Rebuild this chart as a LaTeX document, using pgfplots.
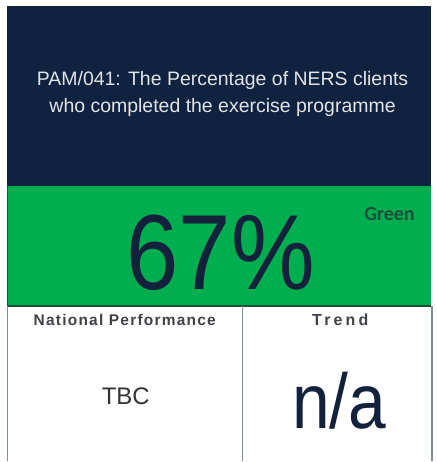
\documentclass[border=0pt]{standalone}
\usepackage{fontspec}
\setmainfont{Liberation Sans}
\newfontfamily\calfont{Carlito}
\usepackage{pgfplots}
\pgfplotsset{compat=1.18}

\definecolor{tileNavy}{HTML}{0F223F}
\definecolor{tileGreen}{HTML}{00AE4F}
\definecolor{valueInk}{HTML}{13213D}
\definecolor{ragInk}{HTML}{1D4E3A}
\definecolor{labelInk}{HTML}{3F4347}
\definecolor{tbcInk}{HTML}{333333}
\definecolor{titleInk}{HTML}{E2E4E8}
\definecolor{frameLine}{HTML}{7F8C9A}

\begin{document}
\begin{tikzpicture}
\begin{axis}[
  width=437pt, height=462pt, scale only axis,
  xmin=0, xmax=437, ymin=0, ymax=462, y dir=reverse,
  hide axis, clip=false]
% page background
\addplot[fill=white, draw=none] coordinates {(0,0) (437,0) (437,462) (0,462)} -- cycle;
% title panel
\addplot[fill=tileNavy, draw=none] coordinates {(7,6) (432,6) (432,185) (7,185)} -- cycle;
% value panel
\addplot[fill=tileGreen, draw=none] coordinates {(7,185) (432,185) (432,307) (7,307)} -- cycle;
\addplot[tileNavy, line width=1.2pt] coordinates {(7,185.5) (432,185.5)};
\addplot[ragInk, line width=1.2pt] coordinates {(7,306.5) (432,306.5)};
\addplot[ragInk, line width=1pt] coordinates {(7.5,185) (7.5,307)};
% lower frame
\addplot[frameLine, line width=1.8pt] coordinates {(7.5,307) (7.5,462)};
\addplot[frameLine, line width=1.8pt] coordinates {(243,307) (243,462)};
\addplot[frameLine, line width=1.8pt] coordinates {(432.5,307) (432.5,462)};

\node[anchor=base, text=titleInk, font=\fontsize{19.5}{24}\selectfont]
  at (axis cs:223,86) {PAM/041: The Percentage of NERS clients};
\node[anchor=base, text=titleInk, font=\fontsize{19.5}{24}\selectfont]
  at (axis cs:223,113) {who completed the exercise programme};

\node[anchor=base, text=valueInk, font=\fontsize{107}{120}\selectfont]
  at (axis cs:221,290) {\scalebox{0.88}[1]{67\%}};
\node[anchor=base east, text=ragInk, font=\calfont\bfseries\fontsize{20}{24}\selectfont]
  at (axis cs:419,221) {Green};

\node[anchor=base, text=labelInk, font=\bfseries\fontsize{15.5}{17}\selectfont\addfontfeature{LetterSpace=8}]
  at (axis cs:125,326) {National Performance};
\node[anchor=base, text=labelInk, font=\bfseries\fontsize{16}{18}\selectfont\addfontfeature{LetterSpace=20}]
  at (axis cs:341,326) {Trend};

\node[anchor=base, text=tbcInk, font=\fontsize{24}{28}\selectfont]
  at (axis cs:126,405) {TBC};
\node[anchor=base, text=valueInk, font=\fontsize{78}{86}\selectfont]
  at (axis cs:340,429) {\scalebox{0.87}[1]{n/a}};
\end{axis}
\end{tikzpicture}
\end{document}
